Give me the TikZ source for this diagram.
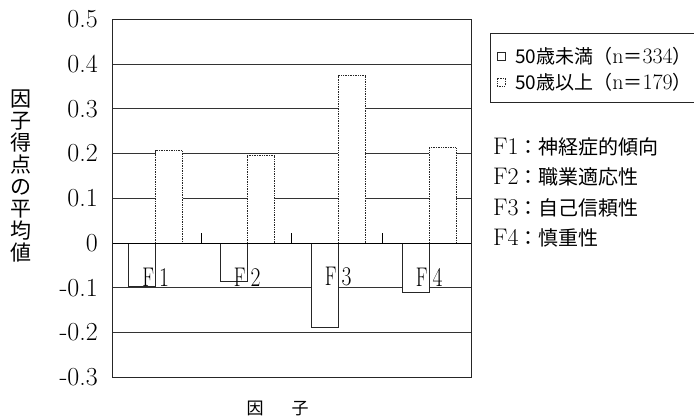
\documentclass[tikz,border=0pt]{standalone}
\usepackage{fontspec}
\usepackage{graphicx}
\newfontfamily\jp{Noto Sans CJK JP}
\newcommand{\narrowF}[1]{\scalebox{0.72}[1]{F}\hspace{5pt}\scalebox{0.8}[1]{#1}}
\newcommand{\jps}[1]{{\jp\fontsize{19}{19}\selectfont #1}}

\begin{document}
\begin{tikzpicture}[x=1pt, y=1pt,
    gridline/.style={line width=0.8pt, black!80},
    frameline/.style={line width=0.9pt, black!85},
    negbar/.style={draw=black!85, fill=white, line width=0.9pt},
    posbar/.style={draw=black!85, fill=white, line width=0.9pt, dash pattern=on 1pt off 0.7pt},
    ticklab/.style={anchor=east, inner sep=0pt, font=\fontsize{26}{26}\selectfont},
    catlab/.style={inner sep=0pt, font=\fontsize{27}{27}\selectfont},
    legtext/.style={anchor=west, inner sep=0pt, font=\fontsize{22}{22}\selectfont},
    factext/.style={anchor=west, inner sep=0pt, font=\fontsize{24}{24}\selectfont},
    marker/.style={draw=black!85, line width=0.8pt, minimum size=8pt, inner sep=0pt}]
    \useasboundingbox (0,0) rectangle (694,418);

    % plot area, values on the y axis
    \begin{scope}[yshift=175pt, y=447pt]
        \foreach \v in {-0.2,-0.1,0.1,0.2,0.3,0.4}
            \draw[gridline] (112,\v) -- (471,\v);
        \foreach \v [count=\i] in {0.5,0.4,0.3,0.2,0.1,0,-0.1,-0.2,-0.3}
            \node[ticklab] (yl\i) at (98,\v) {\v};
        % bars: centre / under 50 / 50 and over
        \foreach \c/\n/\p [count=\i] in {155.7/-0.097/0.206, 247.3/-0.085/0.195, 338.3/-0.188/0.374, 429.3/-0.110/0.213}{
            \draw[negbar] (\c-26.8,0) rectangle (\c,\n);
            \draw[posbar] (\c,0) rectangle (\c+26.8,\p);
        }
        \draw[line width=0.9pt] (112,0) -- (471,0);
        \foreach \t in {201.3,291.7,382}
            \draw[line width=0.8pt] (\t,0) -- (\t,0.022);
        \foreach \c [count=\i] in {155.7,247.3,338.3,429.3}
            \node[catlab] (f\i) at (\c,-0.076) {\narrowF{\i}};
        \draw[frameline] (112,-0.3) rectangle (471,0.5);
    \end{scope}

    % axis titles
    \node[inner sep=0pt, align=center, font=\jp\fontsize{21}{22}\selectfont] (ylab) at (21,241.5)
        {因\\子\\得\\点\\の\\平\\均\\値};
    \node[inner sep=0pt, font=\jp\fontsize{17}{17}\selectfont] (xlab) at (277.5,9.5) {因\hspace{28pt}子};

    % legend
    \draw[frameline] (694,385) -- (490,385) -- (490,316) -- (694,316);
    \node[marker] (m1) at (501,362) {};
    \node[marker, dash pattern=on 1pt off 0.7pt] (m2) at (501,336) {};
    \node[legtext] (l1) at (515,362) {\jps{50歳未満（}n\jps{＝}334\jps{）}};
    \node[legtext] (l2) at (515,336) {\jps{50歳以上（}n\jps{＝}179\jps{）}};

    % factor names
    \node[factext] (fn1) at (493,271) {F1{\jp\fontsize{20}{20}\selectfont ：神経症的傾向}};
    \node[factext] (fn2) at (493,241) {F2{\jp\fontsize{20}{20}\selectfont ：職業適応性}};
    \node[factext] (fn3) at (493,210) {F3{\jp\fontsize{20}{20}\selectfont ：自己信頼性}};
    \node[factext] (fn4) at (493,180) {F4{\jp\fontsize{20}{20}\selectfont ：慎重性}};
\end{tikzpicture}
\end{document}
